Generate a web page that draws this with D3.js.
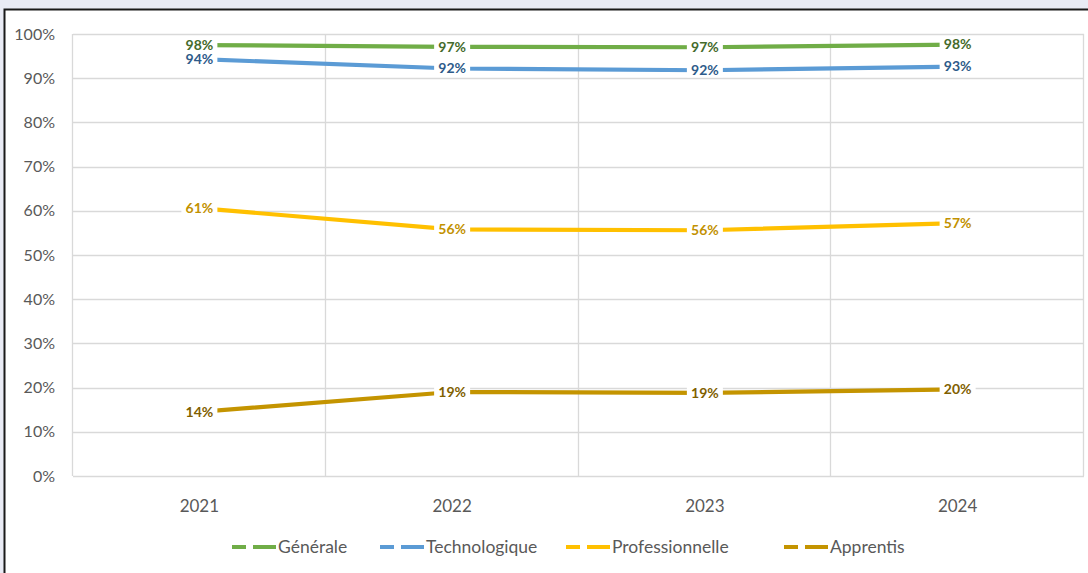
<!DOCTYPE html>
<html>
<head>
<meta charset="utf-8">
<script src="https://cdn.jsdelivr.net/npm/d3@7"></script>
<style>
  body { margin: 0; background: #e9ebf5; }
  svg { display: block; font-family: Lato, "Open Sans", sans-serif; }
</style>
</head>
<body>
<div id="chart"></div>
<script>
var years = ["2021", "2022", "2023", "2024"];
var seriesNames = ["Générale", "Technologique", "Professionnelle", "Apprentis"];
var generale = [0.975, 0.971, 0.970, 0.976];
var technologique = [0.943, 0.922, 0.918, 0.926];
var professionnelle = [0.606, 0.558, 0.556, 0.572];
var apprentis = [0.145, 0.190, 0.188, 0.196];
var yTicks = [0, 0.1, 0.2, 0.3, 0.4, 0.5, 0.6, 0.7, 0.8, 0.9, 1];

var lineColors = ["#70ad47", "#5b9bd5", "#ffc000", "#c49400"];
var labelColors = ["#446a2b", "#2e5b8a", "#c29100", "#7f6000"];

var width = 1088, height = 573;
var margin = {top: 34, right: 4, bottom: 97, left: 73};

var svg = d3.select("#chart").append("svg")
    .attr("width", width)
    .attr("height", height);

// chart frame (cut by the window)
svg.append("rect")
    .attr("x", 4.5).attr("y", 9.5)
    .attr("width", width + 20).attr("height", height + 20)
    .attr("fill", "#fff")
    .attr("stroke", "#1a1a1a")
    .attr("stroke-width", 2);

var x = d3.scaleBand()
    .domain(years)
    .range([margin.left, width - margin.right])
    .paddingInner(0).paddingOuter(0);

var y = d3.scaleLinear()
    .domain([0, 1])
    .range([height - margin.bottom, margin.top]);

// horizontal grid
svg.append("g").selectAll("line")
    .data(yTicks)
    .enter().append("line")
    .attr("x1", margin.left).attr("x2", width - margin.right)
    .attr("y1", function(d){ return Math.round(y(d)) + 0.5; })
    .attr("y2", function(d){ return Math.round(y(d)) + 0.5; })
    .attr("stroke", "#d9d9d9")
    .attr("stroke-width", 1.3);

// vertical grid between categories
var bounds = years.map(function(d){ return x(d); }).concat([x(years[years.length-1]) + x.bandwidth()]);
svg.append("g").selectAll("line")
    .data(bounds)
    .enter().append("line")
    .attr("x1", function(d){ return Math.round(d) - 0.5; })
    .attr("x2", function(d){ return Math.round(d) - 0.5; })
    .attr("y1", y(1)).attr("y2", y(0))
    .attr("stroke", "#d9d9d9")
    .attr("stroke-width", 1.3);

// y tick labels
svg.append("g").selectAll("text")
    .data(yTicks)
    .enter().append("text")
    .attr("x", 55)
    .attr("y", function(d){ return y(d); })
    .attr("dy", "0.35em")
    .attr("text-anchor", "end")
    .attr("font-size", 16)
    .attr("fill", "#595959")
    .text(d3.format(".0%"));

// x tick labels
svg.append("g").selectAll("text")
    .data(years)
    .enter().append("text")
    .attr("x", function(d){ return x(d) + x.bandwidth()/2; })
    .attr("y", 506)
    .attr("dy", "0.35em")
    .attr("text-anchor", "middle")
    .attr("font-size", 17)
    .attr("fill", "#595959")
    .text(function(d){ return d; });

var series = [generale, technologique, professionnelle, apprentis];

var line = d3.line()
    .x(function(d, i){ return x(years[i]) + x.bandwidth()/2; })
    .y(function(d){ return y(d); });

svg.append("g").selectAll("path")
    .data(series)
    .enter().append("path")
    .attr("d", line)
    .attr("fill", "none")
    .attr("stroke", function(d, i){ return lineColors[i]; })
    .attr("stroke-width", 4.2);

// data labels with white boxes
series.forEach(function(s, si){
    var g = svg.append("g");
    s.forEach(function(v, i){
        var cx = x(years[i]) + x.bandwidth()/2;
        var cy = y(v);
        g.append("rect")
            .attr("x", cx - 18).attr("y", cy - 7)
            .attr("width", 36).attr("height", 14)
            .attr("fill", "#fff");
        g.append("text")
            .attr("x", cx).attr("y", cy)
            .attr("dy", "0.34em")
            .attr("text-anchor", "middle")
            .attr("font-size", 14)
            .attr("font-weight", "bold")
            .attr("fill", labelColors[si])
            .text(d3.format(".0%")(v));
    });
});

// legend
var legendX = [232, 380, 566, 784];
var legend = svg.append("g");
seriesNames.forEach(function(name, i){
    var lx = legendX[i], ly = 547;
    legend.append("line")
        .attr("x1", lx).attr("x2", lx + 44)
        .attr("y1", ly).attr("y2", ly)
        .attr("stroke", lineColors[i])
        .attr("stroke-width", 4)
        .attr("stroke-dasharray", "14,7,23");
    legend.append("text")
        .attr("x", lx + 46).attr("y", ly)
        .attr("dy", "0.35em")
        .attr("font-size", 17.5)
        .attr("fill", "#595959")
        .text(name);
});
</script>
</body>
</html>
